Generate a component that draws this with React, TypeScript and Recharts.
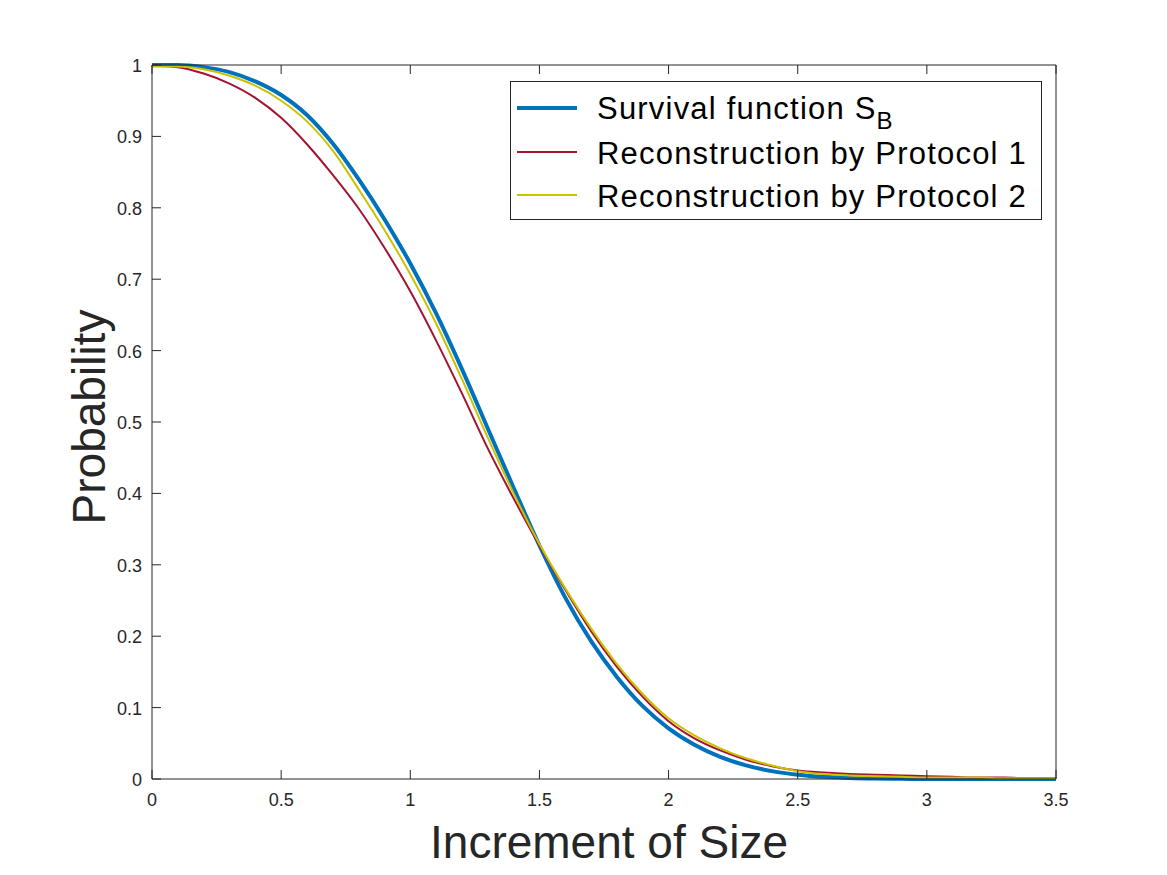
import React from 'react';
import { LineChart, Line, XAxis, YAxis, Label } from 'recharts';

// values
const increments = [
  0, 0.1, 0.2, 0.3, 0.4, 0.5, 0.6, 0.7, 0.8, 0.9, 1.0, 1.1, 1.2, 1.3, 1.4, 1.5, 1.6, 1.7,
  1.8, 1.9, 2.0, 2.1, 2.2, 2.3, 2.4, 2.5, 2.6, 2.7, 2.8, 2.9, 3.0, 3.1, 3.2, 3.3, 3.4, 3.5,
];
const survivalSB = [
  1.0, 1.0, 0.997, 0.99, 0.977, 0.958, 0.93, 0.89, 0.84, 0.784, 0.722, 0.652, 0.574,
  0.491, 0.408, 0.327, 0.254, 0.193, 0.143, 0.102, 0.071, 0.048, 0.031, 0.019, 0.011, 0.006,
  0.003, 0.0015, 0.0007, 0.0003, 0, 0, 0, 0, 0, 0,
];
const protocol1 = [
  0.999, 0.997, 0.988, 0.974, 0.954, 0.926, 0.889, 0.846, 0.799, 0.744, 0.683, 0.614, 0.54,
  0.463, 0.393, 0.327, 0.265, 0.207, 0.157, 0.115, 0.081, 0.057, 0.04, 0.027, 0.018, 0.012,
  0.009, 0.007, 0.006, 0.005, 0.004, 0.003, 0.002, 0.002, 0.001, 0.001,
];
const protocol2 = [
  0.998, 0.998, 0.994, 0.985, 0.971, 0.95, 0.921, 0.88, 0.826, 0.769, 0.707, 0.638, 0.56,
  0.478, 0.4, 0.329, 0.267, 0.211, 0.161, 0.119, 0.085, 0.061, 0.043, 0.029, 0.019, 0.011,
  0.007, 0.005, 0.004, 0.003, 0.002, 0.002, 0.002, 0.001, 0.001, 0.001,
];
const xTicks = [0, 0.5, 1, 1.5, 2, 2.5, 3, 3.5];
const yTicks = [0, 0.1, 0.2, 0.3, 0.4, 0.5, 0.6, 0.7, 0.8, 0.9, 1];

const data = increments.map((x, i) => ({
  x,
  sb: survivalSB[i],
  p1: protocol1[i],
  p2: protocol2[i],
}));

const FONT = '"Liberation Sans", Arial, Helvetica, sans-serif';
const INK = '#262626';
const BLUE = '#0072BD';
const RED = '#A2142F';
const YELLOW = '#C9C200';
const TICK = 9;

// MATLAB style: ticks point inward, labels outside
const BottomTick = (props: any) => {
  const { x, y, payload } = props;
  return (
    <g>
      <line x1={x} y1={y} x2={x} y2={y - TICK} stroke={INK} />
      <text x={x} y={y + 27} textAnchor="middle" fontSize={18} fontFamily={FONT} fill={INK}>
        {payload.value}
      </text>
    </g>
  );
};
const TopTick = (props: any) => {
  const { x, y } = props;
  return <line x1={x} y1={y} x2={x} y2={y + TICK} stroke={INK} />;
};
const LeftTick = (props: any) => {
  const { x, y, payload } = props;
  return (
    <g>
      <line x1={x} y1={y} x2={x + TICK} y2={y} stroke={INK} />
      <text x={x - 10} y={y + 7} textAnchor="end" fontSize={18} fontFamily={FONT} fill={INK}>
        {payload.value}
      </text>
    </g>
  );
};
const RightTick = (props: any) => {
  const { x, y } = props;
  return <line x1={x} y1={y} x2={x - TICK} y2={y} stroke={INK} />;
};

const legendRows = [
  { color: BLUE, width: 4, lineY: 108, textY: 119, label: 'Survival function S', sub: 'B' },
  { color: RED, width: 2, lineY: 152, textY: 164, label: 'Reconstruction by Protocol 1' },
  { color: YELLOW, width: 2, lineY: 195, textY: 207, label: 'Reconstruction by Protocol 2' },
];

const ChartLegend = () => (
  <svg width={1167} height={875} style={{ position: 'absolute', left: 0, top: 0, pointerEvents: 'none' }}>
    <rect x={510.5} y={81.5} width={531} height={138} fill="#fff" stroke={INK} />
    {legendRows.map((r) => (
      <g key={r.label}>
        <line x1={517} x2={577} y1={r.lineY} y2={r.lineY} stroke={r.color} strokeWidth={r.width} />
        <text x={597} y={r.textY} fontSize={31} letterSpacing={1.2} fontFamily={FONT} fill="#000">
          {r.label}
          {r.sub && (
            <tspan fontSize={24} dy={10}>
              {r.sub}
            </tspan>
          )}
        </text>
      </g>
    ))}
  </svg>
);

export default function App() {
  return (
    <div style={{ position: 'absolute', left: 0, top: 0, width: 1167, height: 875, background: '#fff' }}>
      <LineChart
        width={1167}
        height={875}
        data={data}
        margin={{ top: 64, right: 110, bottom: 95, left: 151 }}
      >
        <XAxis
          dataKey="x"
          type="number"
          domain={[0, 3.5]}
          ticks={xTicks}
          height={1}
          tickSize={0}
          tickMargin={0}
          tickLine={false}
          axisLine={{ stroke: INK }}
          tick={BottomTick}
          interval={0}
        >
          <Label
            content={(p: any) => {
              const vb = p.viewBox;
              return (
                <text
                  x={vb.x + vb.width / 2 + 5}
                  y={vb.y + 79}
                  textAnchor="middle"
                  fontSize={46}
                  fontFamily={FONT}
                  fill={INK}
                >
                  Increment of Size
                </text>
              );
            }}
          />
        </XAxis>
        <XAxis
          xAxisId="top"
          orientation="top"
          dataKey="x"
          type="number"
          domain={[0, 3.5]}
          ticks={xTicks}
          height={1}
          tickSize={0}
          tickMargin={0}
          tickLine={false}
          axisLine={{ stroke: INK }}
          tick={TopTick}
          interval={0}
        />
        <YAxis
          type="number"
          domain={[0, 1]}
          ticks={yTicks}
          width={1}
          tickSize={0}
          tickMargin={0}
          tickLine={false}
          axisLine={{ stroke: INK }}
          tick={LeftTick}
          interval={0}
        >
          <Label
            content={(p: any) => {
              const vb = p.viewBox;
              const cx = vb.x - 46;
              const cy = vb.y + vb.height / 2 - 5;
              return (
                <text
                  x={cx}
                  y={cy}
                  transform={`rotate(-90, ${cx}, ${cy})`}
                  textAnchor="middle"
                  fontSize={46}
                  fontFamily={FONT}
                  fill={INK}
                >
                  Probability
                </text>
              );
            }}
          />
        </YAxis>
        <YAxis
          yAxisId="right"
          orientation="right"
          type="number"
          domain={[0, 1]}
          ticks={yTicks}
          width={1}
          tickSize={0}
          tickMargin={0}
          tickLine={false}
          axisLine={{ stroke: INK }}
          tick={RightTick}
          interval={0}
        />
        <Line type="monotone" dataKey="sb" stroke={BLUE} strokeWidth={4} dot={false} isAnimationActive={false} />
        <Line type="monotone" dataKey="p1" stroke={RED} strokeWidth={2} dot={false} isAnimationActive={false} />
        <Line type="monotone" dataKey="p2" stroke={YELLOW} strokeWidth={2} dot={false} isAnimationActive={false} />
      </LineChart>
      <ChartLegend />
    </div>
  );
}
